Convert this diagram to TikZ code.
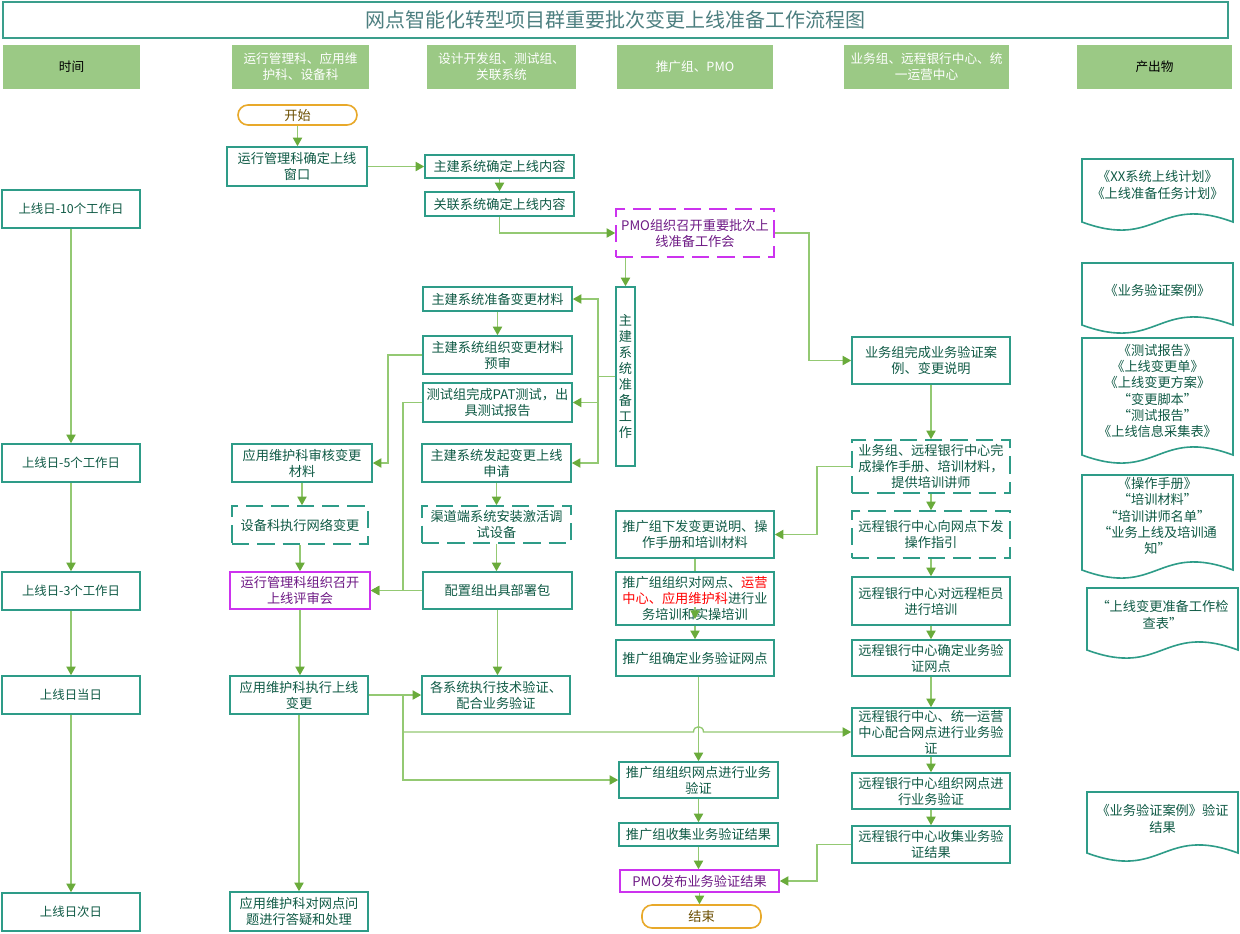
\documentclass[tikz,border=0pt]{standalone}
\usepackage{fontspec}
\setmainfont{Noto Sans CJK SC}
\usetikzlibrary{arrows.meta,calc}
\pgfdeclarelayer{bg}
\pgfsetlayers{bg,main}
\definecolor{boxc}{HTML}{2E9C88}
\definecolor{txtc}{HTML}{0F5A45}
\definecolor{magc}{HTML}{CC33EE}
\definecolor{magtxt}{HTML}{6E1A85}
\definecolor{orgc}{HTML}{E8A92A}
\definecolor{brnc}{HTML}{6B4E00}
\definecolor{hdrc}{HTML}{9BC985}
\definecolor{linec}{HTML}{94C973}
\definecolor{tipc}{HTML}{6AAB3B}
\definecolor{titc}{HTML}{3A9E8C}
\definecolor{tittxt}{HTML}{4D7F80}
\newcommand\mybox[7]{%
  \pgfmathsetmacro\bw{(#4-#2)*0.75}%
  \pgfmathsetmacro\bh{(#5-#3)*0.75}%
  \node[#6, minimum width=\bw pt, minimum height=\bh pt] (#1) at ({(#2+#4)/2},{(#3+#5)/2}) {#7};}
\newcommand\mydoc[7]{%
  \draw[docst] (#2,#3) -- (#4,#3) -- (#4,#5) .. controls ({(#2+#4)/2},{#5-28}) and ({(#2+#4)/2},{#5+28}) .. (#2,#5) -- cycle;
  \node[doctxt] (#1) at ({(#2+#4)/2},#6) {#7};}
\begin{document}
\begin{tikzpicture}[x=0.75pt,y=-0.75pt,
  box/.style={draw=boxc, line width=1.2pt, fill=white, text=txtc, align=center, inner sep=1pt, font=\fontsize{9.9}{12}\selectfont},
  tbox/.style={box, font=\fontsize{9.3}{11}\selectfont},
  dbox/.style={box, dash pattern=on 13pt off 6pt},
  mbox/.style={box, draw=magc, text=magtxt},
  mdbox/.style={mbox, dash pattern=on 13pt off 6pt},
  term/.style={box, draw=orgc, text=brnc, rounded corners=7.5pt},
  hdr/.style={fill=hdrc, draw=none, text=white, align=center, inner sep=1pt, font=\fontsize{9.5}{12}\selectfont},
  hdrk/.style={hdr, text=black},
  docst/.style={draw=boxc, line width=1.2pt, fill=white},
  doctxt/.style={text=txtc, align=center, inner sep=0pt, font=\fontsize{9.9}{12.2}\selectfont},
  ln/.style={draw=linec, line width=1pt},
  arr/.style={ln, -{Triangle[length=6.5pt,width=7pt,color=tipc]}}
]
\useasboundingbox (0,0) rectangle (1240,933);
% title
\mybox{title}{3}{2}{1228}{38}{draw=titc, line width=1.2pt, text=tittxt, font=\fontsize{15}{18}\selectfont}{网点智能化转型项目群重要批次变更上线准备工作流程图}
% headers
\mybox{h1}{3}{45}{140}{89}{hdrk}{时间}
\mybox{h2}{232}{45}{369}{89}{hdr}{运行管理科、应用维\\护科、设备科}
\mybox{h3}{427}{45}{576}{89}{hdr}{设计开发组、测试组、\\关联系统}
\mybox{h4}{617}{45}{773}{89}{hdr}{推广组、PMO}
\mybox{h5}{844}{45}{1009}{89}{hdr}{业务组、远程银行中心、统\\一运营中心}
\mybox{h6}{1077}{45}{1232}{89}{hdrk}{产出物}
% time column
\mybox{t1}{2}{190}{140}{228}{tbox}{上线日-10个工作日}
\mybox{t2}{2}{444}{140}{482}{tbox}{上线日-5个工作日}
\mybox{t3}{2}{572}{140}{610}{tbox}{上线日-3个工作日}
\mybox{t4}{2}{676}{140}{714}{tbox}{上线日当日}
\mybox{t5}{2}{893}{140}{931}{tbox}{上线日次日}
% column 2
\mybox{start}{238}{105}{357}{125}{term}{开始}
\mybox{wnd}{227}{147}{367}{186}{box}{运行管理科确定上线\\窗口}
\mybox{yw1}{232}{444}{372}{482}{box}{应用维护科审核变更\\材料}
\mybox{sb}{232}{506}{368}{544}{dbox}{设备科执行网络变更}
\mybox{yx2}{230}{572}{370}{609}{mbox}{运行管理科组织召开\\上线评审会}
\mybox{yw2}{230}{676}{368}{714}{box}{应用维护科执行上线\\变更}
\mybox{yw3}{230}{892}{368}{931}{box}{应用维护科对网点问\\题进行答疑和处理}
% column 3
\mybox{zj1}{425}{155}{574}{178}{box}{主建系统确定上线内容}
\mybox{gl1}{425}{192}{574}{216}{box}{关联系统确定上线内容}
\mybox{zj2}{423}{287}{572}{311}{box}{主建系统准备变更材料}
\mybox{zj3}{423}{336}{572}{374}{box}{主建系统组织变更材料\\预审}
\mybox{test}{423}{383}{572}{422}{box}{测试组完成PAT测试，出\\具测试报告}
\mybox{zj4}{422}{444}{571}{482}{box}{主建系统发起变更上线\\申请}
\mybox{qd}{422}{506}{571}{543}{dbox}{渠道端系统安装激活调\\试设备}
\mybox{pz}{423}{572}{572}{609}{box}{配置组出具部署包}
\mybox{gx}{422}{676}{570}{714}{box}{各系统执行技术验证、\\配合业务验证}
% column 4
\mybox{pmo1}{616}{209}{774}{257}{mdbox}{PMO组织召开重要批次上\\线准备工作会}
\mybox{vbox}{616}{287}{635}{466}{box}{主\\建\\系\\统\\准\\备\\工\\作}
\mybox{tg1}{616}{511}{774}{558}{box}{推广组下发变更说明、操\\作手册和培训材料}
\mybox{tg2}{616}{572}{774}{625}{box}{推广组组织对网点、\textcolor{red}{运营}\\\textcolor{red}{中心、应用维护科}进行业\\务培训和实操培训}
\mybox{tg3}{616}{640}{774}{676}{box}{推广组确定业务验证网点}
\mybox{tg4}{619}{762}{778}{798}{box}{推广组组织网点进行业务\\验证}
\mybox{tg5}{619}{823}{778}{846}{box}{推广组收集业务验证结果}
\mybox{pmo2}{620}{870}{779}{892}{mbox}{PMO发布业务验证结果}
\mybox{end}{642}{905}{761}{928}{term}{结束}
% column 5
\mybox{bz1}{852}{337}{1010}{384}{box}{业务组完成业务验证案\\例、变更说明}
\mybox{bz2}{852}{440}{1010}{493}{dbox}{业务组、远程银行中心完\\成操作手册、培训材料，\\提供培训讲师}
\mybox{yc1}{852}{511}{1010}{558}{dbox}{远程银行中心向网点下发\\操作指引}
\mybox{yc2}{852}{577}{1010}{625}{box}{远程银行中心对远程柜员\\进行培训}
\mybox{yc3}{852}{640}{1010}{676}{box}{远程银行中心确定业务验\\证网点}
\mybox{yc4}{852}{708}{1010}{756}{box}{远程银行中心、统一运营\\中心配合网点进行业务验\\证}
\mybox{yc5}{852}{773}{1010}{809}{box}{远程银行中心组织网点进\\行业务验证}
\mybox{yc6}{852}{826}{1010}{863}{box}{远程银行中心收集业务验\\证结果}
% documents
\mydoc{d1}{1082}{159}{1233}{222}{185}{《XX系统上线计划》\\《上线准备任务计划》}
\mydoc{d2}{1082}{263}{1233}{325}{290}{《业务验证案例》}
\mydoc{d3}{1082}{338}{1233}{455}{391}{《测试报告》\\《上线变更单》\\《上线变更方案》\\“变更脚本”\\“测试报告”\\《上线信息采集表》}
\mydoc{d4}{1082}{475}{1233}{570}{516}{《操作手册》\\“培训材料”\\“培训讲师名单”\\“业务上线及培训通\\知”}
\mydoc{d5}{1087}{588}{1238}{650}{615}{“上线变更准备工作检\\查表”}
\mydoc{d6}{1087}{792}{1238}{853}{819}{《业务验证案例》验证\\结果}
% helper coordinates
\coordinate (c1) at (809,0);
\coordinate (c2) at (388,0);
\coordinate (c3) at (403,0);
\coordinate (c4) at (817,0);
\coordinate (j1) at (598,0);
\coordinate (tgtip) at (695,619);
\coordinate (hp) at (tg4.north |- yc4.west);
\begin{pgfonlayer}{bg}
\fill[white] (0,0) rectangle (1240,933);
% time column
\draw[arr] (t1.south) -- (t2.north);
\draw[arr] (t2.south) -- (t3.north);
\draw[arr] (t3.south) -- (t4.north);
\draw[arr] (t4.south) -- (t5.north);
% flow
\draw[arr] (start.south) -- (start.south |- wnd.north);
\draw[arr] (wnd.east) -- (wnd.east -| zj1.west);
\draw[arr] (zj1.south) -- (zj1.south |- gl1.north);
\draw[arr] (gl1.south) |- (pmo1.west);
\draw[arr] (pmo1.east) -| (c1 |- bz1.west) -- (bz1.west);
\draw[arr] (vbox.north |- pmo1.south) -- (vbox.north);
\draw[ln] (vbox.west) -- (vbox.west -| j1);
\draw[arr] (vbox.west -| j1) |- (zj2.east);
\draw[arr] (vbox.west -| j1) |- (test.east);
\draw[arr] (vbox.west -| j1) |- (zj4.east);
\draw[arr] (zj2.south) -- (zj2.south |- zj3.north);
\draw[arr] (zj3.west) -| (c2 |- yw1.east) -- (yw1.east);
\draw[arr] (test.west) -| (c3 |- yx2.east) -- (yx2.east);
\draw[arr] (pz.west) -- (pz.west -| yx2.east);
\draw[arr] (zj4.south) -- (zj4.south |- qd.north);
\draw[arr] (qd.south) -- (qd.south |- pz.north);
\draw[arr] (pz.south) -- (pz.south |- gx.north);
\draw[arr] (yw1.south) -- (yw1.south |- sb.north);
\draw[arr] (sb.south) -- (sb.south |- yx2.north);
\draw[arr] (yx2.south) -- (yx2.south |- yw2.north);
\draw[arr] (yw2.south) -- (yw2.south |- yw3.north);
\draw[arr] (yw2.east) -- (yw2.east -| gx.west);
\draw[arr] (yw2.east -| c3) |- (tg4.west);
\draw[arr] (yw2.east -| c3) |- ($(hp)+(-5,0)$) .. controls ($(hp)+(-5,-7)$) and ($(hp)+(5,-7)$) .. ($(hp)+(5,0)$) -- (yc4.west);
\draw[ln] (tg1.south) -- (tgtip);
\draw[arr] (tg2.south) -- (tg2.south |- tg3.north);
\draw[arr] (tg4.north |- tg3.south) -- (tg4.north);
\draw[arr] (tg4.south) -- (tg4.south |- tg5.north);
\draw[arr] (tg5.south) -- (tg5.south |- pmo2.north);
\draw[arr] (pmo2.south) -- (pmo2.south |- end.north);
\draw[arr] (bz1.south) -- (bz1.south |- bz2.north);
\draw[arr] (bz2.south) -- (bz2.south |- yc1.north);
\draw[arr] (yc1.south) -- (yc1.south |- yc2.north);
\draw[arr] (yc2.south) -- (yc2.south |- yc3.north);
\draw[arr] (yc3.south) -- (yc3.south |- yc4.north);
\draw[arr] (yc4.south) -- (yc4.south |- yc5.north);
\draw[arr] (yc5.south) -- (yc5.south |- yc6.north);
\draw[arr] (bz2.west) -| (c4 |- tg1.east) -- (tg1.east);
\draw[arr] (yc6.west) -| (c4 |- pmo2.east) -- (pmo2.east);
\end{pgfonlayer}
\draw[arr] ($(tgtip)+(0,-12)$) -- (tgtip);
\end{tikzpicture}
\end{document}
